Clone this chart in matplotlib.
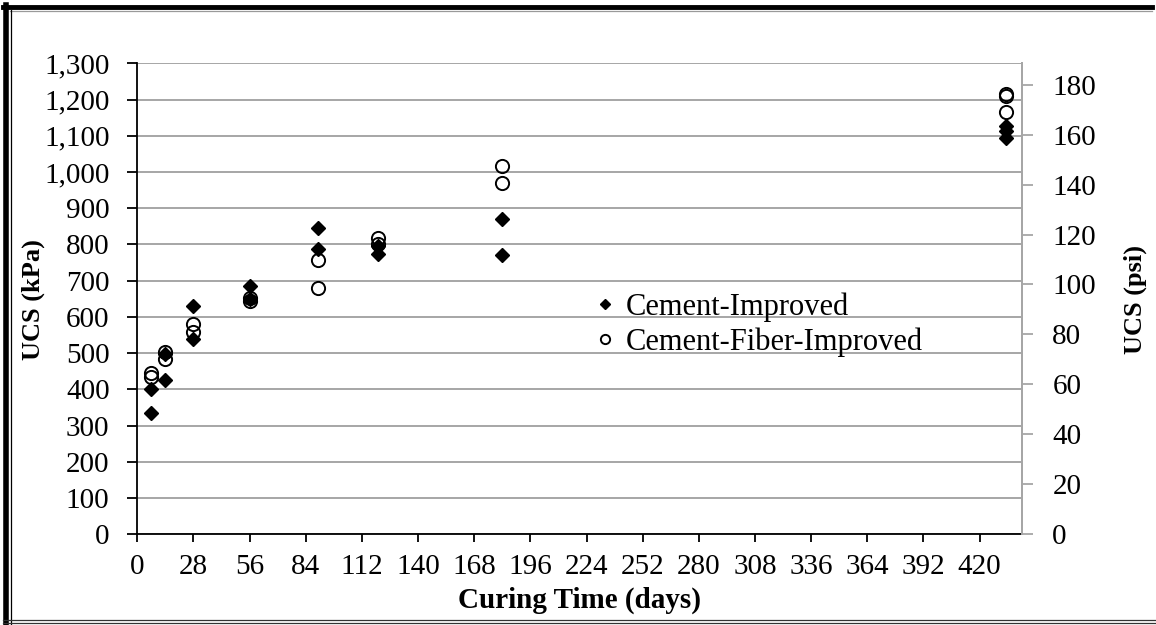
import matplotlib
matplotlib.use('Agg')
import matplotlib.pyplot as plt
from matplotlib.ticker import FuncFormatter, MultipleLocator
from matplotlib.lines import Line2D

plt.rcParams['font.family'] = ['Liberation Serif', 'DejaVu Serif']

# ---- data ----
ci_days = [7, 7, 14, 14, 28, 28, 56, 56, 90, 90, 120, 120, 182, 182, 433, 433, 433]
ci_kpa = [336, 401, 426, 497, 630, 538, 686, 650, 845, 787, 796, 775, 870, 771, 1128, 1112, 1093]

cfi_days = [7, 7, 14, 14, 28, 28, 56, 56, 90, 90, 120, 120, 182, 182, 433, 433, 433]
cfi_kpa = [433, 445, 504, 483, 580, 557, 645, 652, 757, 681, 817, 800, 1017, 969, 1216, 1211, 1166]

x_ticks = list(range(0, 421, 28))
psi_ticks = list(range(0, 181, 20))
labels = ["Cement-Improved", "Cement-Fiber-Improved"]
KPA_PER_PSI = 6.895

W, H = 1156, 625
fig = plt.figure(figsize=(W / 100, H / 100), dpi=100)

def fx(px):
    return px / W

def fy(py):
    return 1 - py / H

left, right, top, bottom = 137.3, 1021.7, 63.3, 534.3
ax = fig.add_axes([fx(left), fy(bottom), fx(right) - fx(left), fy(top) - fy(bottom)])

grid_c = '#a6a6a6'
ax.set_xlim(0, 441)
ax.set_ylim(0, 1300)
ax.set_xticks(x_ticks)
ax.yaxis.set_major_locator(MultipleLocator(100))
ax.yaxis.set_major_formatter(FuncFormatter(lambda v, p: f"{int(round(v)):,}"))
ax.grid(axis='y', color=grid_c, lw=1.4)
ax.set_axisbelow(True)
ax.spines['top'].set_visible(False)
ax.spines['right'].set_color(grid_c)
ax.spines['right'].set_linewidth(1.4)
for s in ('left', 'bottom'):
    ax.spines[s].set_color('black')
    ax.spines[s].set_linewidth(1.3)
ax.tick_params(axis='y', direction='out', length=7, width=1.3, labelsize=21, pad=13)
ax.tick_params(axis='x', direction='out', length=6, width=1.3, labelsize=21, pad=8)

ax.plot(ci_days, ci_kpa, linestyle='none', marker='D', ms=7, color='black',
        zorder=3, label=labels[0])
ax.plot(cfi_days, cfi_kpa, linestyle='none', marker='o', ms=9.5, mfc='none',
        mec='black', mew=1.4, zorder=4, label=labels[1])

ax2 = ax.twinx()
ax2.set_ylim(0, 1300 / KPA_PER_PSI)
ax2.set_yticks(psi_ticks)
for s in ('top', 'left', 'bottom'):
    ax2.spines[s].set_visible(False)
ax2.spines['right'].set_color(grid_c)
ax2.spines['right'].set_linewidth(1.4)
ax2.tick_params(axis='y', direction='out', length=8, width=1.3, color=grid_c,
                labelsize=21, pad=14, labelcolor='black')

# axis titles
fig.text(fx(33), fy(300), "UCS (kPa)", rotation=90, ha='center', va='center',
         fontsize=19, fontweight='bold')
fig.text(fx(1135), fy(300), "UCS (psi)", rotation=90, ha='center', va='center',
         fontsize=19, fontweight='bold')
fig.text(fx(580), fy(600), "Curing Time (days)", ha='center', va='center',
         fontsize=21, fontweight='bold')

leg = ax.legend(loc='upper left', bbox_to_anchor=(fx(594), fy(292)),
                bbox_transform=fig.transFigure, frameon=False, fontsize=22,
                markerscale=0.7, handlelength=0.75, handletextpad=0.3,
                labelspacing=0.2, borderpad=0, borderaxespad=0)

# outer frame
def fline(xs, ys, **kw):
    fig.add_artist(Line2D([fx(x) for x in xs], [fy(y) for y in ys],
                          transform=fig.transFigure, **kw))

fline([3, 1152], [6.5, 6.5], color='black', lw=3.5)
fline([5.5, 5.5], [5, 625], color='black', lw=4)
fline([10, 1152], [10.5, 10.5], color='#9a9a9a', lw=0.9)
fline([10.5, 10.5], [10, 625], color='black', lw=0.9)
fline([3, 1156], [620, 620], color='#333333', lw=0.9)
fline([3, 1156], [623, 623], color='#333333', lw=0.9)

fig.savefig('out.png', dpi=100)
